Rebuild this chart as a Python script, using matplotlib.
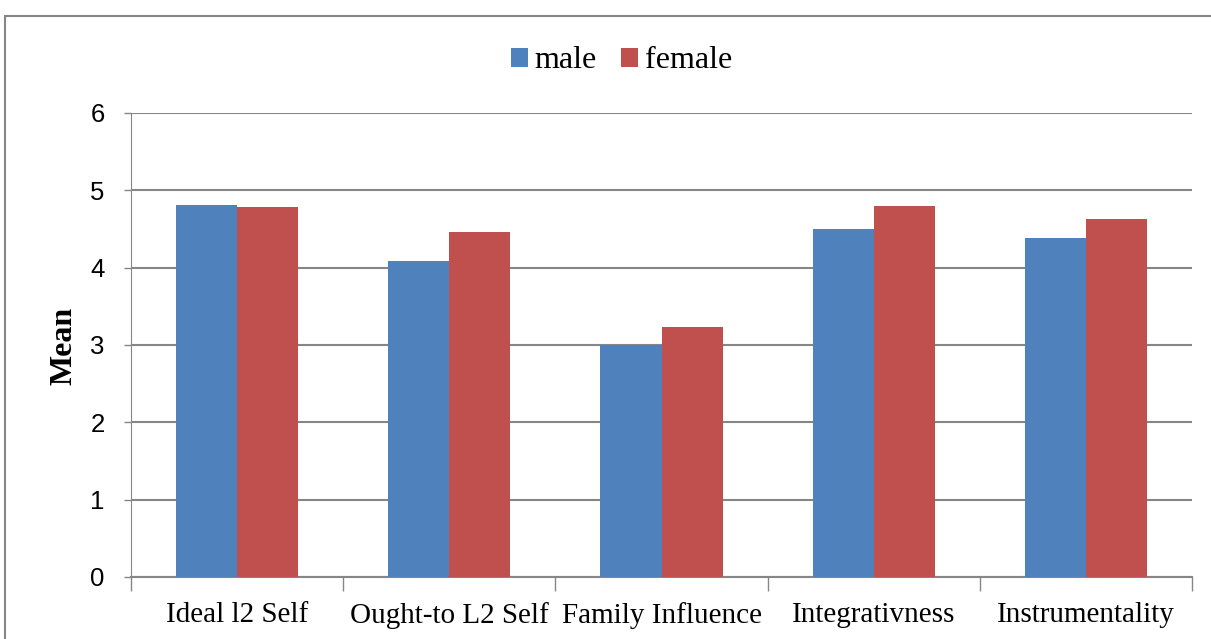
import matplotlib
matplotlib.use("Agg")
import matplotlib.pyplot as plt
import numpy as np
from matplotlib.patches import Rectangle

categories = ["Ideal l2 Self", "Ought-to L2 Self", "Family Influence", "Integrativness", "Instrumentality"]
male = [4.81, 4.08, 3.00, 4.50, 4.39]
female = [4.79, 4.46, 3.23, 4.80, 4.63]
series_names = ["male", "female"]
colors = ["#4F81BD", "#C0504D"]
yticks = [0, 1, 2, 3, 4, 5, 6]

W, H = 1211, 639
fig = plt.figure(figsize=(W / 100, H / 100), dpi=100)
ax = fig.add_axes([131 / W, 1 - 577 / H, (1192 - 131) / W, (577 - 113) / H])

# outer chart frame
fig.patches.append(Rectangle((5 / W, -0.01), 1.2, 1 - 15.5 / H + 0.01, transform=fig.transFigure,
                             fill=False, edgecolor="#868686", linewidth=1.5, zorder=0))

x = np.arange(len(categories))
bw = 0.288
ax.bar(x - bw / 2, male, width=bw, color=colors[0], label=series_names[0], zorder=3)
ax.bar(x + bw / 2, female, width=bw, color=colors[1], label=series_names[1], zorder=3)

ax.set_xlim(-0.5, len(categories) - 0.5)
ax.set_ylim(0, 6)
ax.set_yticks(yticks)
ax.set_yticklabels([str(v) for v in yticks], fontsize=18.5, family="Liberation Sans")
ax.yaxis.grid(True, color="#868686", linewidth=1.5, zorder=0)
ax.set_axisbelow(True)

ax.set_xticks(x)
ax.set_xticklabels(categories, fontsize=21, family="Liberation Serif")
ax.tick_params(axis="x", length=0, pad=18)
ax.set_xticks(np.arange(-0.5, len(categories)), minor=True)
ax.tick_params(axis="x", which="minor", length=10, color="#868686", width=1)
ax.tick_params(axis="y", length=5, color="#868686", width=1, pad=14)

for s in ["top", "right"]:
    ax.spines[s].set_visible(False)
ax.spines["left"].set_color("#868686")
ax.spines["bottom"].set_color("#868686")
ax.spines["bottom"].set_linewidth(1.5)

fig.text(64 / W, 1 - 346 / H, "Mean", rotation=90, ha="center", va="center",
         fontsize=23, fontweight="bold", family="Liberation Serif")

leg = fig.legend(loc="center", bbox_to_anchor=(621.5 / W, 1 - 61 / H), ncol=2, frameon=False,
                 prop={"family": "Liberation Serif", "size": 23},
                 handlelength=0.53, handleheight=0.53, handletextpad=0.22, columnspacing=0.75)

fig.savefig("out.png", dpi=100)
